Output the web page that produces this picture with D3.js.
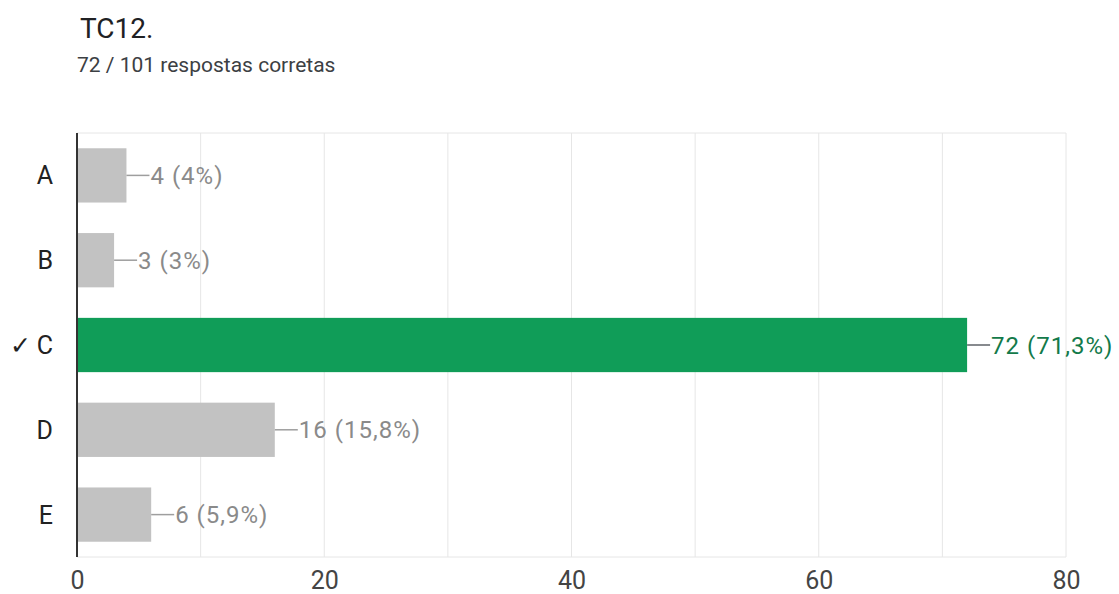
<!doctype html>
<html lang="pt">
  <head>
    <meta charset="UTF-8" />
    <title>TC12.</title>
    <style>
      body { margin: 0; background: #fff; font-family: Roboto, "Noto Sans", sans-serif; }
      .grid line { stroke: #e6e6e6; stroke-width: 1px; }
      .tick text { fill: #444; font-size: 25px; }
    </style>
  </head>
  <body>
    <div id="chart"></div>
    <script src="https://d3js.org/d3.v7.min.js"></script>
    <script>
      // data
      const categories = ['A', 'B', 'C', 'D', 'E'];
      const counts = [4, 3, 72, 16, 6];
      const percents = ['4%', '3%', '71,3%', '15,8%', '5,9%'];
      const correct = 'C';
      const xTicks = [0, 20, 40, 60, 80];
      const gridValues = [10, 20, 30, 40, 50, 60, 70, 80];

      const width = 1119, height = 594;
      const margin = { top: 133, right: 53, bottom: 37, left: 77 };

      const svg = d3.select('#chart').append('svg').attr('width', width).attr('height', height);

      // title + subtitle
      svg.append('text').attr('x', 80).attr('y', 38).attr('font-size', 28).attr('fill', '#202124').text('TC12.');
      svg.append('text').attr('x', 77).attr('y', 72).attr('font-size', 21).attr('fill', '#3c4043').text('72 / 101 respostas corretas');

      const x = d3.scaleLinear().domain([0, 80]).range([margin.left, width - margin.right]);
      const y = d3.scaleBand().domain(categories).range([margin.top, height - margin.bottom]).paddingInner(0.36).paddingOuter(0.18);

      // gridlines
      const g = svg.append('g').attr('class', 'grid');
      g.selectAll('line.v')
        .data(gridValues)
        .enter()
        .append('line')
        .attr('x1', (d) => x(d)).attr('x2', (d) => x(d))
        .attr('y1', margin.top).attr('y2', height - margin.bottom);
      g.append('line')
        .attr('x1', margin.left).attr('x2', width - margin.right)
        .attr('y1', margin.top).attr('y2', margin.top);
      g.append('line')
        .attr('x1', margin.left).attr('x2', width - margin.right)
        .attr('y1', height - margin.bottom).attr('y2', height - margin.bottom);

      // bars
      svg.selectAll('rect.bar')
        .data(categories)
        .enter()
        .append('rect')
        .attr('x', x(0))
        .attr('y', (d) => y(d))
        .attr('width', (d, i) => x(counts[i]) - x(0))
        .attr('height', y.bandwidth())
        .attr('fill', (d) => (d === correct ? '#109d58' : '#c2c2c2'));

      // value labels with connector
      const lab = svg.selectAll('g.lab').data(categories).enter().append('g');
      lab.append('line')
        .attr('x1', (d, i) => x(counts[i]))
        .attr('x2', (d, i) => x(counts[i]) + 23)
        .attr('y1', (d) => y(d) + y.bandwidth() / 2)
        .attr('y2', (d) => y(d) + y.bandwidth() / 2)
        .attr('stroke', (d) => (d === correct ? '#5f6368' : '#9e9e9e'))
        .attr('stroke-width', 1.5);
      lab.append('text')
        .attr('x', (d, i) => x(counts[i]) + 24)
        .attr('y', (d) => y(d) + y.bandwidth() / 2)
        .attr('dy', '0.36em')
        .attr('font-size', 24)
        .attr('letter-spacing', 1)
        .attr('fill', (d) => (d === correct ? '#137a4a' : '#8a8a8a'))
        .text((d, i) => `${counts[i]} (${percents[i]})`);

      // category labels
      svg.selectAll('text.cat')
        .data(categories)
        .enter()
        .append('text')
        .attr('x', 53)
        .attr('y', (d) => y(d) + y.bandwidth() / 2)
        .attr('dy', '0.36em')
        .attr('text-anchor', 'end')
        .attr('font-size', 25)
        .attr('fill', '#222')
        .text((d) => (d === correct ? '✓ ' + d : d));

      // y axis line
      svg.append('line')
        .attr('x1', margin.left).attr('x2', margin.left)
        .attr('y1', margin.top).attr('y2', height - margin.bottom)
        .attr('stroke', '#333').attr('stroke-width', 2);

      // x axis labels
      const xAxis = svg.append('g')
        .attr('transform', `translate(0,${height - margin.bottom})`)
        .call(d3.axisBottom(x).tickValues(xTicks).tickSize(0).tickPadding(14));
      xAxis.select('.domain').remove();
      xAxis.selectAll('text').attr('font-family', 'Roboto, sans-serif');
    </script>
  </body>
</html>
